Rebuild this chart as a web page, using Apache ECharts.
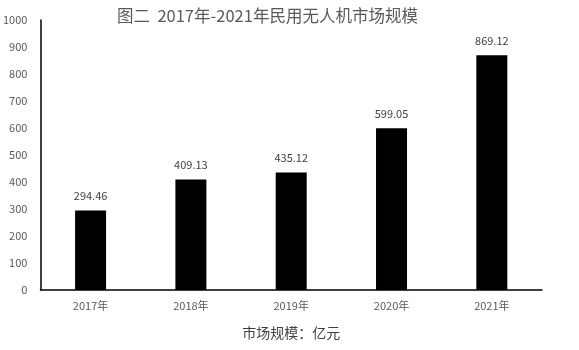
<!DOCTYPE html>
<html><head><meta charset="utf-8">
<script src="https://cdn.jsdelivr.net/npm/echarts@6/dist/echarts.min.js"></script>
<style>html,body{margin:0;padding:0;background:#fff}#c{width:579px;height:350px}</style>
</head><body><div id="c"></div>
<script>
const categories = ['2017年','2018年','2019年','2020年','2021年'];
const values = [294.46, 409.13, 435.12, 599.05, 869.12];
const yTicks = [0,100,200,300,400,500,600,700,800,900,1000];
const chart = echarts.init(document.getElementById('c'));
const font = '"Noto Sans CJK SC", "Open Sans", sans-serif';
chart.setOption({
  animation:false,
  title:{text:'图二  2017年-2021年民用无人机市场规模',left:112,top:2,
    textStyle:{color:'#595959',fontSize:16.5,fontWeight:'normal',fontFamily:font}},
  grid:{left:38,right:37,top:20,bottom:60},
  xAxis:{type:'category',data:categories,
    name:'市场规模：亿元',nameLocation:'middle',nameGap:36,
    nameTextStyle:{color:'#404040',fontSize:14,fontFamily:font},
    axisLine:{lineStyle:{color:'#000',width:1.5}},axisTick:{show:false},
    axisLabel:{color:'#595959',fontSize:11,margin:10,fontFamily:font}},
  yAxis:{type:'value',min:yTicks[0],max:yTicks[yTicks.length-1],interval:100,
    axisLine:{show:true,lineStyle:{color:'#000',width:1.5}},axisTick:{show:false},
    splitLine:{show:false},
    axisLabel:{color:'#595959',fontSize:11,margin:13,fontFamily:font,formatter:function(v){return String(v);}}},
  series:[{type:'bar',data:values,barWidth:31,itemStyle:{color:'#000'},
    label:{show:true,position:'top',distance:9,color:'#404040',fontSize:11,fontFamily:font}}]
});
</script></body></html>
